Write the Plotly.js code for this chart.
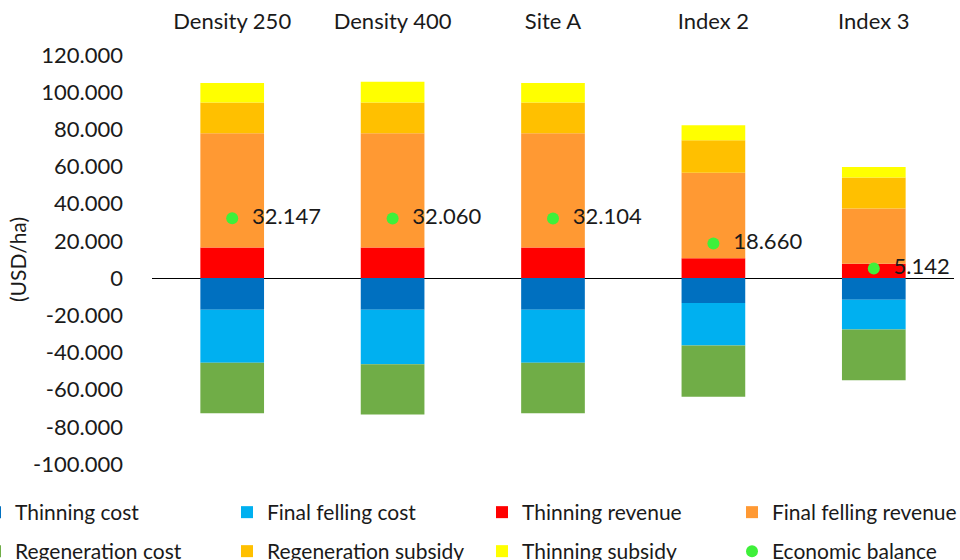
<!DOCTYPE html>
<html>
<head>
<meta charset="utf-8">
<script src="https://cdn.plot.ly/plotly-3.0.1.min.js"></script>
<style>html,body{margin:0;padding:0;background:#fff;}#chart{width:960px;height:560px;}</style>
</head>
<body>
<div id="chart"></div>
<script>
var categories = ['Density 250', 'Density 400', 'Site A', 'Index 2', 'Index 3'];
var thinningCost = [-17000, -17000, -17000, -13400, -11600];
var finalFellingCost = [-28600, -29300, -28600, -22900, -16100];
var thinningRevenue = [16400, 16400, 16400, 10700, 7700];
var finalFellingRevenue = [61500, 61500, 61500, 45900, 29800];
var regenerationCost = [-27100, -27100, -27100, -27500, -27200];
var regenerationSubsidy = [16600, 16600, 16600, 17500, 16600];
var thinningSubsidy = [10500, 11100, 10500, 8100, 5700];
var economicBalance = [32147, 32060, 32104, 18660, 5142];
var yTickVals = [-100000, -80000, -60000, -40000, -20000, 0, 20000, 40000, 60000, 80000, 100000, 120000];
var yTickText = ['-100.000', '-80.000', '-60.000', '-40.000', '-20.000', '0', '20.000', '40.000', '60.000', '80.000', '100.000', '120.000'];

var FONT = 'Lato, "Open Sans", sans-serif';
var TXT = '#1a1a1a';

function bar(name, y, color, legend, lw) {
  return {
    type: 'bar', name: name, x: categories, y: y,
    marker: {color: color, line: {width: 0}},
    legend: legend, legendwidth: lw,
    hoverinfo: 'x+y+name'
  };
}

var traces = [
  bar('Thinning cost', thinningCost, '#0070C0', 'legend', 207),
  bar('Final felling cost', finalFellingCost, '#00B0F0', 'legend', 210),
  bar('Thinning revenue', thinningRevenue, '#FF0000', 'legend', 200),
  bar('Final felling revenue', finalFellingRevenue, '#FF9933', 'legend3', 0),
  bar('Regeneration cost', regenerationCost, '#70AD47', 'legend2', 207),
  bar('Regeneration subsidy', regenerationSubsidy, '#FFC000', 'legend2', 210),
  bar('Thinning subsidy', thinningSubsidy, '#FFFF00', 'legend2', 200),
  {
    type: 'scatter', mode: 'markers+text', name: 'Economic balance',
    x: categories, y: economicBalance,
    marker: {color: '#3EF03A', size: 12},
    texttemplate: '\u00a0\u00a0%{y:,.0f}',
    textposition: 'middle right',
    textfont: {family: FONT, size: 22, color: TXT},
    legend: 'legend4',
    cliponaxis: false
  }
];

var legendCommon = {
  orientation: 'h', xref: 'paper', yref: 'paper',
  xanchor: 'left', yanchor: 'top',
  font: {family: FONT, size: 21, color: TXT},
  itemwidth: 30, bgcolor: 'rgba(0,0,0,0)', borderwidth: 0
};
var xLeft = (-25 - 152) / 802;
var xRight = (732 - 152) / 802;
var yRow1 = (464 - 492) / 409;
var yRow2 = (464 - 531) / 409;

var layout = {
  width: 960, height: 560,
  margin: {l: 152, r: 6, t: 55, b: 96, autoexpand: false},
  separators: ',.',
  barmode: 'relative',
  bargap: 0.603,
  paper_bgcolor: '#ffffff', plot_bgcolor: '#ffffff',
  font: {family: FONT, size: 18, color: TXT},
  xaxis: {
    side: 'top', type: 'category', showgrid: false, showline: false,
    ticks: '', ticklabelstandoff: 21,
    tickfont: {family: FONT, size: 22, color: TXT}
  },
  yaxis: {
    range: [-100000, 120000], tickvals: yTickVals, ticktext: yTickText,
    showgrid: false, showline: false, ticks: '',
    zeroline: true, zerolinecolor: '#000000', zerolinewidth: 1,
    ticklabelstandoff: 28,
    tickfont: {family: FONT, size: 22, color: TXT},
    title: {text: '(USD/ha)', font: {family: FONT, size: 21, color: TXT}, standoff: 0}
  },
  legend: Object.assign({}, legendCommon, {x: xLeft, y: yRow1}),
  legend2: Object.assign({}, legendCommon, {x: xLeft, y: yRow2}),
  legend3: Object.assign({}, legendCommon, {x: xRight, y: yRow1}),
  legend4: Object.assign({}, legendCommon, {x: xRight, y: yRow2}),
  showlegend: true
};

Plotly.newPlot('chart', traces, layout, {displayModeBar: false, staticPlot: true});
</script>
</body>
</html>
